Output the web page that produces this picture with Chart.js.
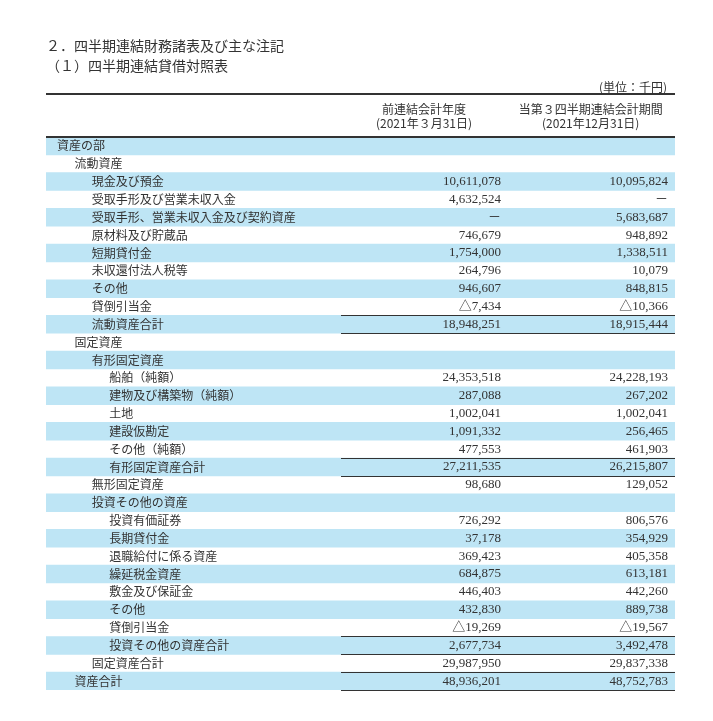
<!DOCTYPE html>
<html lang="ja">
<head>
<meta charset="utf-8">
<title>四半期連結貸借対照表</title>
<script src="https://cdn.jsdelivr.net/npm/chart.js@4.4.0/dist/chart.umd.min.js"></script>
<style>
  html, body { margin: 0; padding: 0; background: #fff; }
  #wrap { width: 713px; height: 721px; }
</style>
</head>
<body>
<div id="wrap"><canvas id="myChart" width="713" height="721"></canvas></div>
<script>
// 見出し
const titleLines = ["２．四半期連結財務諸表及び主な注記", "（１）四半期連結貸借対照表"];
const unitLabel = "(単位：千円)";
const colHeads = [
  ["前連結会計年度", "(2021年３月31日)"],
  ["当第３四半期連結会計期間", "(2021年12月31日)"],
];

// 科目
const rowLabels = [
  "資産の部", "流動資産", "現金及び預金", "受取手形及び営業未収入金",
  "受取手形、営業未収入金及び契約資産", "原材料及び貯蔵品", "短期貸付金",
  "未収還付法人税等", "その他", "貸倒引当金", "流動資産合計",
  "固定資産", "有形固定資産", "船舶（純額）", "建物及び構築物（純額）",
  "土地", "建設仮勘定", "その他（純額）", "有形固定資産合計",
  "無形固定資産", "投資その他の資産", "投資有価証券", "長期貸付金",
  "退職給付に係る資産", "繰延税金資産", "敷金及び保証金", "その他",
  "貸倒引当金", "投資その他の資産合計", "固定資産合計", "資産合計",
];
// 字下げの段
const rowLevels = [0, 1, 2, 2, 2, 2, 2, 2, 2, 2, 2, 1, 2, 3, 3, 3, 3, 3, 3, 2, 2, 3, 3, 3, 3, 3, 3, 3, 3, 2, 1];

// 金額（千円）  null = 空欄, 0 = －
const prevValues = [
  null, null, 10611078, 4632524, 0, 746679, 1754000, 264796, 946607, -7434, 18948251,
  null, null, 24353518, 287088, 1002041, 1091332, 477553, 27211535, 98680, null,
  726292, 37178, 369423, 684875, 446403, 432830, -19269, 2677734, 29987950, 48936201,
];
const currValues = [
  null, null, 10095824, 0, 5683687, 948892, 1338511, 10079, 848815, -10366, 18915444,
  null, null, 24228193, 267202, 1002041, 256465, 461903, 26215807, 129052, null,
  806576, 354929, 405358, 613181, 442260, 889738, -19567, 3492478, 29837338, 48752783,
];

// 合計行の罫線
const ruleAbove = [10, 18, 28];
const ruleBelow = [10, 18, 28, 29, 30];

const BLUE = "#bee5f5";
const INK = "#333333";
const JP = "'Noto Sans CJK JP', sans-serif";
const NUM = "'Liberation Serif', 'Noto Sans CJK JP', serif";

const fmt = (v) => {
  if (v === null) return "";
  if (v === 0) return "－";
  const s = Math.abs(v).toLocaleString("en-US");
  return v < 0 ? "△" + s : s;
};

// 表の文字と罫線
const tablePlugin = {
  id: "tableText",
  afterDatasetsDraw(chart) {
    const { ctx, chartArea } = chart;
    const xs = chart.scales.x;
    const ys = chart.scales.y;
    const bars = chart.getDatasetMeta(0).data;
    const colCenter = [0.601, 0.866];
    const colRight = [0.7234, 0.989];
    const ruleStart = 0.469;

    ctx.save();
    ctx.fillStyle = INK;
    ctx.strokeStyle = INK;
    ctx.textBaseline = "middle";

    // タイトル
    ctx.font = "14px " + JP;
    ctx.textAlign = "left";
    ctx.fillText(titleLines[0], chartArea.left, 46);
    ctx.fillText(titleLines[1], chartArea.left, 66);

    ctx.font = "12px " + JP;
    ctx.textAlign = "right";
    ctx.fillText(unitLabel, xs.getPixelForValue(colRight[1]) - 1, 87);

    // 上罫線・見出し下罫線
    ctx.lineWidth = 2;
    ctx.beginPath();
    ctx.moveTo(chartArea.left, 94);
    ctx.lineTo(chartArea.right, 94);
    ctx.moveTo(chartArea.left, chartArea.top);
    ctx.lineTo(chartArea.right, chartArea.top);
    ctx.stroke();

    // 列見出し
    ctx.textAlign = "center";
    colHeads.forEach((head, c) => {
      const x = xs.getPixelForValue(colCenter[c]);
      ctx.fillText(head[0], x, 109);
      ctx.fillText(head[1], x, 123);
    });

    // 各行
    rowLabels.forEach((label, i) => {
      const y = ys.getPixelForValue(i);
      ctx.font = "12px " + JP;
      ctx.textAlign = "left";
      ctx.fillText(label, xs.getPixelForValue(0) + 11 + rowLevels[i] * 17.4, y);

      ctx.font = "13px " + NUM;
      ctx.textAlign = "right";
      ctx.fillText(fmt(prevValues[i]), xs.getPixelForValue(colRight[0]), y);
      ctx.fillText(fmt(currValues[i]), xs.getPixelForValue(colRight[1]), y);
    });

    // 合計の罫線
    ctx.lineWidth = 1.2;
    ctx.beginPath();
    const x0 = xs.getPixelForValue(ruleStart);
    const x1 = xs.getPixelForValue(1);
    ruleAbove.forEach((i) => {
      const b = bars[i];
      const y = Math.round(b.y - b.height / 2) + 0.5;
      ctx.moveTo(x0, y);
      ctx.lineTo(x1, y);
    });
    ruleBelow.forEach((i) => {
      const b = bars[i];
      const y = Math.round(b.y + b.height / 2) + 0.5;
      ctx.moveTo(x0, y);
      ctx.lineTo(x1, y);
    });
    ctx.stroke();
    ctx.restore();
  },
};

const chart = new Chart(document.getElementById("myChart"), {
  type: "bar",
  data: {
    labels: rowLabels,
    datasets: [
      {
        label: "行",
        data: rowLabels.map(() => [0, 1]),
        backgroundColor: (c) => (c.dataIndex % 2 === 0 ? BLUE : "rgba(0,0,0,0)"),
        borderWidth: 0,
        barPercentage: 1,
        categoryPercentage: 1,
      },
    ],
  },
  options: {
    indexAxis: "y",
    responsive: false,
    animation: false,
    events: [],
    layout: { padding: { left: 46, right: 38, top: 137, bottom: 31 } },
    plugins: {
      legend: { display: false },
      tooltip: { enabled: false },
      title: { display: false },
    },
    scales: {
      x: { type: "linear", min: 0, max: 1, display: false },
      y: { type: "category", display: false },
    },
  },
  plugins: [tablePlugin],
});
</script>
</body>
</html>
